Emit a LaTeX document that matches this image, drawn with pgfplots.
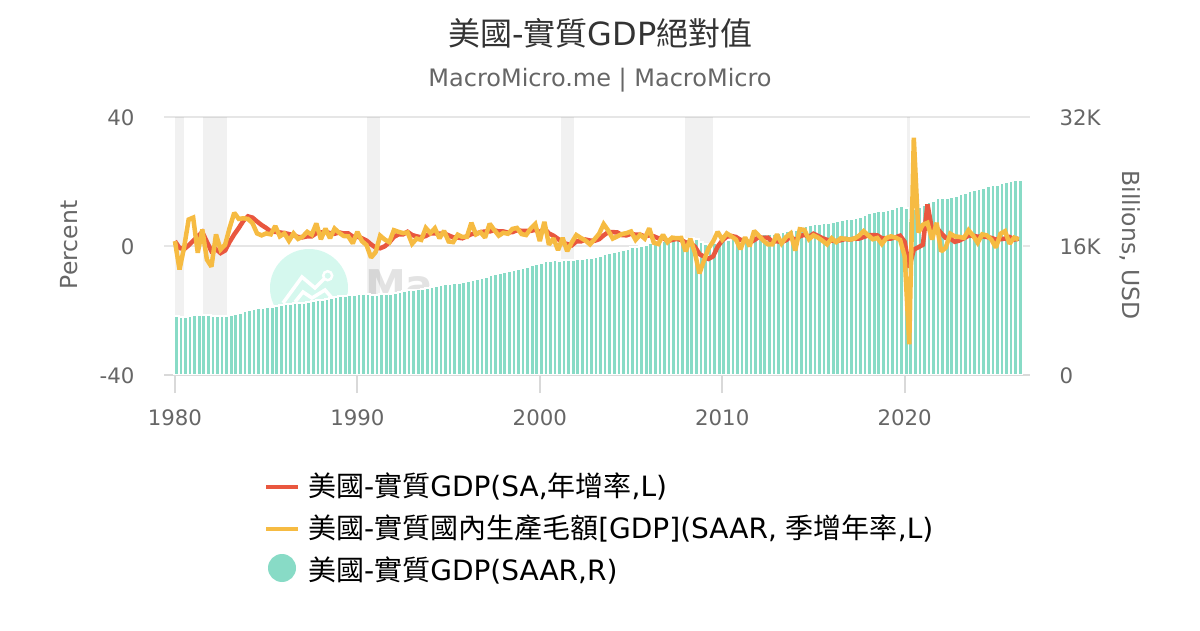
\documentclass[border=0pt]{standalone}
\usepackage{pgfplots}
\usepackage{pgfplotstable}
\usepackage{fontspec}
\pgfplotsset{compat=1.18}
\setmainfont{DejaVu Sans}
\newfontfamily\cjk{Noto Sans CJK TC}
\definecolor{cbar}{HTML}{88DBC6}
\definecolor{cred}{HTML}{E9573F}
\definecolor{cyel}{HTML}{F6BB42}
\definecolor{cgrid}{HTML}{E6E6E6}
\definecolor{caxis}{HTML}{D9D9D9}
\definecolor{ctxt}{HTML}{666666}
\definecolor{cwm}{HTML}{D5F8EE}
\pgfplotstableread{
x gdp yoy qoq
1980.00 7341 1.5 1.5
1980.25 7190 -0.6 -7.3
1980.50 7181 -1.0 -0.5
1980.75 7315 0.2 8.2
1981.00 7459 1.6 8.8
1981.25 7403 3.0 -2.1
1981.50 7492 4.3 5.1
1981.75 7411 1.3 -4.2
1982.00 7295 -1.6 -6.4
1982.25 7329 -1.0 3.6
1982.50 7300 -2.2 -1.1
1982.75 7304 -1.4 0.4
1983.00 7400 1.3 5.7
1983.25 7568 3.6 10.3
1983.50 7719 5.6 8.4
1983.75 7880 7.8 8.6
1984.00 8034 9.2 8.4
1984.25 8174 8.8 7.1
1984.50 8253 7.6 3.9
1984.75 8320 6.5 3.3
1985.00 8400 5.6 3.9
1985.25 8475 4.5 3.6
1985.50 8612 4.4 6.2
1985.75 8691 4.2 3.0
1986.00 8775 4.0 3.9
1986.25 8810 3.7 1.6
1986.50 8891 3.3 3.9
1986.75 8934 2.8 2.2
1987.00 8974 2.7 2.9
1987.25 9068 3.0 4.4
1987.50 9159 3.0 3.5
1987.75 9297 4.0 7.0
1988.00 9349 4.2 2.1
1988.25 9470 4.4 5.4
1988.50 9529 4.0 2.4
1988.75 9652 3.8 5.4
1989.00 9750 4.2 4.1
1989.25 9835 3.9 3.1
1989.50 9906 3.9 3.0
1989.75 9929 2.9 0.8
1990.00 10032 2.9 4.4
1990.25 10074 2.4 1.5
1990.50 10071 1.7 0.3
1990.75 9973 0.5 -3.6
1991.00 9925 -0.5 -1.9
1991.25 9996 -0.7 3.2
1991.50 10040 -0.1 2.0
1991.75 10078 1.1 1.2
1992.00 10200 2.8 4.9
1992.25 10300 3.6 4.4
1992.50 10400 3.6 4.0
1992.75 10520 4.4 4.2
1993.00 10550 3.4 0.7
1993.25 10610 3.0 2.3
1993.50 10680 2.7 1.9
1993.75 10820 3.1 5.6
1994.00 10930 3.9 4.0
1994.25 11070 3.9 5.5
1994.50 11160 3.8 2.4
1994.75 11280 3.9 4.7
1995.00 11320 3.3 1.4
1995.25 11350 2.7 1.2
1995.50 11450 2.6 3.5
1995.75 11530 2.4 2.8
1996.00 11610 3.0 2.8
1996.25 11820 3.7 7.2
1996.50 11920 3.8 3.6
1996.75 12050 4.3 4.3
1997.00 12130 4.5 2.6
1997.25 12340 4.5 6.9
1997.50 12490 4.9 5.0
1997.75 12590 4.5 3.2
1998.00 12720 4.5 4.1
1998.25 12840 4.2 3.8
1998.50 13010 4.3 5.3
1998.75 13190 4.9 5.6
1999.00 13320 4.7 3.7
1999.25 13430 4.7 3.4
1999.50 13610 4.7 5.4
1999.75 13820 5.0 6.8
2000.00 13880 4.3 1.5
2000.25 14130 5.4 7.5
2000.50 14150 3.9 0.4
2000.75 14240 3.2 2.4
2001.00 14180 2.2 -1.3
2001.25 14270 1.0 2.5
2001.50 14220 0.6 -1.6
2001.75 14260 0.2 1.1
2002.00 14380 1.4 3.4
2002.25 14440 1.4 2.5
2002.50 14500 2.0 1.7
2002.75 14510 1.7 0.5
2003.00 14610 1.6 2.1
2003.25 14750 2.1 3.8
2003.50 14990 3.3 6.8
2003.75 15160 4.3 4.8
2004.00 15250 4.3 2.3
2004.25 15370 4.2 3.0
2004.50 15500 3.4 3.7
2004.75 15670 3.3 4.0
2005.00 15840 3.8 4.5
2005.25 15920 3.5 1.9
2005.50 16050 3.5 3.5
2005.75 16140 3.0 2.3
2006.00 16370 3.3 5.5
2006.25 16400 3.0 1.0
2006.50 16440 2.4 0.6
2006.75 16560 2.6 3.5
2007.00 16610 1.5 1.2
2007.25 16710 1.9 2.6
2007.50 16810 2.2 2.4
2007.75 16920 1.9 2.5
2008.00 16840 1.1 -1.7
2008.25 16940 0.9 2.3
2008.50 16850 -0.2 -2.1
2008.75 16490 -2.5 -8.5
2009.00 16300 -3.3 -4.5
2009.25 16270 -4.0 -0.7
2009.50 16310 -3.2 1.4
2009.75 16490 -0.2 4.4
2010.00 16580 1.7 2.0
2010.25 16740 2.9 3.9
2010.50 16870 3.1 3.0
2010.75 16960 2.8 2.0
2011.00 16920 1.9 -1.0
2011.25 17040 1.8 2.7
2011.50 17040 1.0 -0.1
2011.75 17280 1.8 4.7
2012.00 17400 2.8 3.2
2012.25 17470 2.5 1.7
2012.50 17490 2.6 0.5
2012.75 17490 1.3 0.5
2013.00 17650 1.5 3.6
2013.25 17680 1.2 0.8
2013.50 17800 1.8 2.8
2013.75 17990 2.9 3.9
2014.00 18000 1.8 -1.4
2014.25 18210 3.0 5.2
2014.50 18430 3.5 5.0
2014.75 18540 2.8 2.1
2015.00 18680 3.8 3.3
2015.25 18780 3.1 2.6
2015.50 18870 2.4 1.6
2015.75 18890 1.9 0.5
2016.00 18990 1.7 2.4
2016.25 19070 1.5 1.2
2016.50 19200 1.8 2.4
2016.75 19300 2.2 2.2
2017.00 19400 2.0 2.0
2017.25 19490 2.3 2.3
2017.50 19620 2.3 3.2
2017.75 19830 2.8 4.6
2018.00 20030 3.3 3.3
2018.25 20160 3.4 2.1
2018.50 20280 3.3 2.5
2018.75 20300 2.4 0.6
2019.00 20430 2.3 2.5
2019.25 20580 2.3 3.0
2019.50 20800 2.7 2.6
2019.75 20950 3.2 1.9
2020.00 20670 1.3 -3.2
2020.25 19040 -6.7 -30.5
2020.50 20570 -1.1 33.6
2020.75 20770 -0.4 4.2
2021.00 21060 0.4 6.6
2021.25 21390 12.9 7.2
2021.50 21590 5.0 2.0
2021.75 21960 5.7 7.2
2022.00 21900 4.0 -1.7
2022.25 21920 2.5 -0.5
2022.50 22070 2.3 3.8
2022.75 22250 1.3 3.0
2023.00 22400 1.7 2.8
2023.25 22540 2.4 2.5
2023.50 22780 3.2 4.9
2023.75 22960 3.2 3.2
2024.00 23050 2.9 1.0
2024.25 23220 3.0 3.6
2024.50 23400 2.8 3.3
2024.75 23540 2.5 2.0
2025.00 23510 2.0 -0.5
2025.25 23770 2.1 3.8
2025.50 23980 2.3 4.6
2025.75 24030 2.8 0.7
2026.00 24120 2.0 2.6
2026.25 24150 2.3 2.0
}\gdp
\pgfplotsset{common/.style={
  scale only axis, width=866pt, height=258pt,
  at={(164pt,255pt)}, anchor=south west,
  xmin=1979.4, xmax=2026.87,
  scaled x ticks=false, scaled y ticks=false,
  tick label style={font=\fontsize{21.3}{24}\selectfont, text=ctxt, /pgf/number format/assume math mode=true},
}}
\begin{document}
\begin{tikzpicture}[x=1pt,y=1pt]
\useasboundingbox (0,0) rectangle (1200,630);
% watermark behind the plots
\fill[cwm] (309,342) circle (39);
\draw[white,line width=3.5pt,line join=miter] (283,327)--(302,353)--(315,342)--(327,354);
\draw[white,line width=3.5pt] (295,328)--(303,338)--(312,332)--(325,340)--(332,332);
\filldraw[fill=cwm,draw=white,line width=2.5pt] (327.7,354.3) circle (4.5);
\node[anchor=base west,inner sep=0pt,text=black!11,font=\bfseries\fontsize{41}{41}\selectfont] at (365,330) {Ma};
% right axis: bars and bands
\begin{axis}[common,
  ymin=0,ymax=32000,
  axis x line=bottom, axis y line=right,
  x axis line style={draw=caxis,line width=2pt,-},
  y axis line style={draw=none},
  xtick={1980,1990,2000,2010,2020},
  xticklabels={1980,1990,2000,2010,2020},
  xtick align=outside, major tick length=18pt,
  x tick style={draw=caxis,line width=2pt},
  xticklabel style={yshift=-13pt},
  ytick={0,16000,32000}, yticklabels={0,16K,32K},
  y tick style={draw=none},
  ytick align=inside,
  yticklabel style={xshift=26pt,yshift=-1pt},
  ymajorgrids, grid style={cgrid,line width=2pt},
  clip=true]
\foreach \a/\b in {1980.0/1980.5,1981.55/1982.87,1990.55/1991.25,2001.17/2001.9,2007.95/2009.5,2020.1/2020.3}{
  \edef\tmp{\noexpand\addplot[draw=none,fill=black,opacity=0.055] coordinates {(\a,0)(\a,32000)(\b,32000)(\b,0)} --cycle;}
  \tmp
}
\addplot[ybar,bar width=4.56pt,bar shift=1.5pt,fill=cbar,draw=white,line width=1.9pt] table[x=x,y=gdp] {\gdp};
\end{axis}
% left axis: lines
\begin{axis}[common,
  ymin=-40,ymax=40,
  axis x line=none, axis y line=left,
  y axis line style={draw=none},
  ytick={-40,0,40},
  y tick style={draw=none},
  ytick align=inside,
  yticklabel style={xshift=-26pt,yshift=-1pt}]
\addplot[cred,line width=4.5pt,line join=miter,miter limit=2,mark=none] table[x=x,y=yoy] {\gdp};
\addplot[cyel,line width=4.5pt,line join=miter,miter limit=2,mark=none] table[x=x,y=qoq] {\gdp};
\end{axis}
% titles
\node[text=black!80,font=\fontsize{32}{36}\selectfont,inner sep=0pt] at (600.5,597) {{\cjk 美國}-{\cjk 實質}GDP{\cjk 絕對值}};
\node[text=ctxt,font=\fontsize{24}{28}\selectfont,inner sep=0pt] at (600,550) {MacroMicro.me | MacroMicro};
\node[text=ctxt,font=\fontsize{23.5}{28}\selectfont,inner sep=0pt,rotate=90] at (69,385) {Percent};
\node[text=ctxt,font=\fontsize{23.5}{28}\selectfont,inner sep=0pt,rotate=-90] at (1130,385) {Billions, USD};
% legend
\draw[cred,line width=4pt] (266,143)--(298,143);
\draw[cyel,line width=4pt] (266,101)--(298,101);
\fill[cbar] (282,62) circle (14);
\node[anchor=west,inner sep=0pt,font=\fontsize{28}{32}\selectfont] at (308,144) {{\cjk 美國}-{\cjk 實質}GDP(SA,{\cjk 年增率},L)};
\node[anchor=west,inner sep=0pt,font=\fontsize{28}{32}\selectfont] at (308,102) {{\cjk 美國}-{\cjk 實質國內生產毛額}[GDP](SAAR, {\cjk 季增年率},L)};
\node[anchor=west,inner sep=0pt,font=\fontsize{28}{32}\selectfont] at (308,60) {{\cjk 美國}-{\cjk 實質}GDP(SAAR,R)};
\end{tikzpicture}
\end{document}
